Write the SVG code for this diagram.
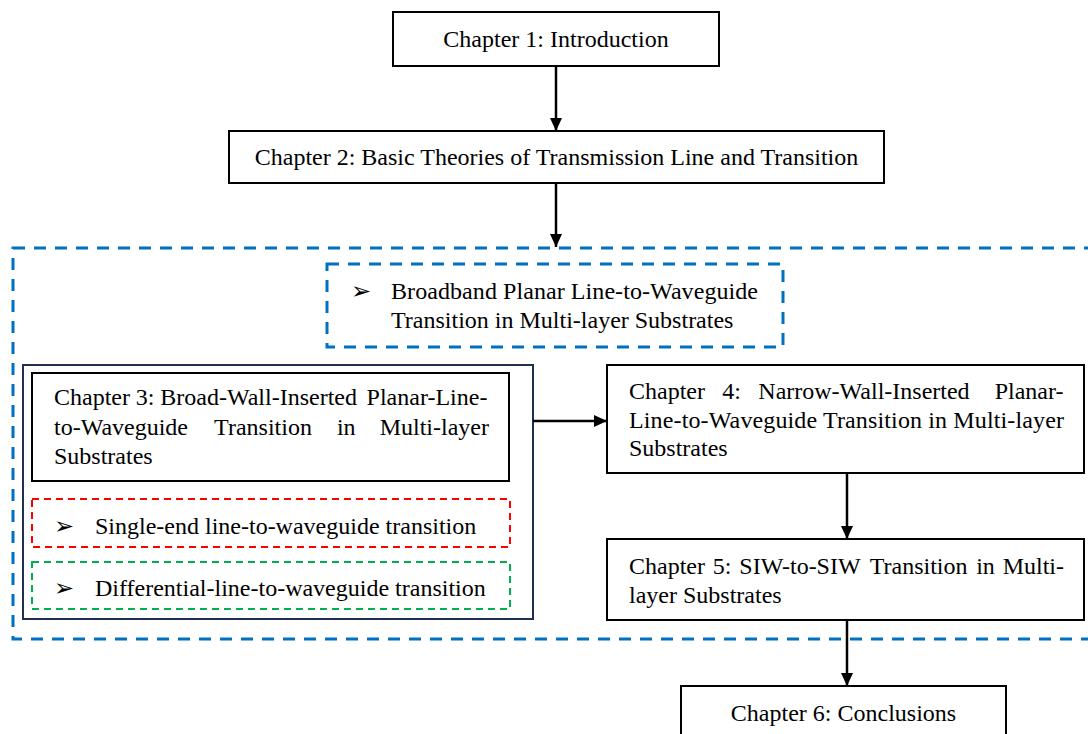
<svg xmlns="http://www.w3.org/2000/svg" width="1088" height="734" viewBox="0 0 1088 734">
  <style>
    .box{fill:#ffffff;stroke:#000000;stroke-width:2}
    .t{font-family:"Liberation Serif","Times New Roman",serif;font-size:24px;fill:#000000}
    .c{text-anchor:middle}
    .bul{font-family:"DejaVu Sans",sans-serif;font-size:24px;fill:#000000}
    .blue{fill:none;stroke:#0070C0;stroke-width:3;stroke-dasharray:12 9}
    .red{fill:none;stroke:#FF0000;stroke-width:2;stroke-dasharray:7 5}
    .green{fill:none;stroke:#00B050;stroke-width:2;stroke-dasharray:7 5}
    .navy{fill:none;stroke:#1F3050;stroke-width:2}
    .conn{stroke:#000000;stroke-width:2.5;fill:none}
  </style>
  <defs>
    <marker id="ah" markerUnits="userSpaceOnUse" markerWidth="14" markerHeight="14" viewBox="0 0 14 14" refX="13" refY="7" orient="auto">
      <path d="M0,1 L13,7 L0,13 Z" fill="#000000"/>
    </marker>
  </defs>
  <rect width="1088" height="734" fill="#ffffff"/>

  <g id="group-outer">
    <rect class="blue" x="13" y="248" width="1090" height="391"/>
  </g>

  <g id="ch1">
    <rect class="box" x="393" y="12" width="326" height="54"/>
    <text class="t c" x="556" y="47">Chapter 1: Introduction</text>
  </g>

  <g id="ch2">
    <rect class="box" x="229" y="131" width="655" height="52"/>
    <text class="t c" x="556.5" y="165">Chapter 2: Basic Theories of Transmission Line and Transition</text>
  </g>

  <g id="theme">
    <rect class="blue" x="327" y="264" width="456" height="83"/>
    <text class="bul" x="351" y="299">➢</text>
    <text class="t" x="391" y="299" textLength="367" lengthAdjust="spacing">Broadband Planar Line-to-Waveguide</text>
    <text class="t" x="391" y="328">Transition in Multi-layer Substrates</text>
  </g>

  <g id="ch3">
    <rect class="navy" x="23" y="365" width="510" height="254"/>
    <rect class="box" x="32" y="373" width="477" height="108"/>
    <text class="t" y="405"><tspan x="54">Chapter</tspan><tspan x="135.8">3:</tspan><tspan x="160.3">Broad-Wall-Inserted</tspan><tspan x="366.6">Planar-Line-</tspan></text>
    <text class="t" y="435"><tspan x="54">to-Waveguide</tspan><tspan x="214.1">Transition</tspan><tspan x="336.9">in</tspan><tspan x="379.7">Multi-layer</tspan></text>
    <text class="t" x="54" y="464">Substrates</text>
  </g>

  <g id="ch3-single">
    <rect class="red" x="32" y="499" width="478" height="48"/>
    <text class="bul" x="54" y="534">➢</text>
    <text class="t" x="95" y="534">Single-end line-to-waveguide transition</text>
  </g>

  <g id="ch3-diff">
    <rect class="green" x="32" y="562" width="478" height="47"/>
    <text class="bul" x="54" y="596">➢</text>
    <text class="t" x="95" y="596">Differential-line-to-waveguide transition</text>
  </g>

  <g id="ch4">
    <rect class="box" x="607" y="365" width="477" height="108"/>
    <text class="t" y="399"><tspan x="629">Chapter</tspan><tspan x="722.3">4:</tspan><tspan x="758.3">Narrow-Wall-Inserted</tspan><tspan x="994.7">Planar-</tspan></text>
    <text class="t" x="629" y="428" textLength="435" lengthAdjust="spacing">Line-to-Waveguide Transition in Multi-layer</text>
    <text class="t" x="629" y="456">Substrates</text>
  </g>

  <g id="ch5">
    <rect class="box" x="607" y="539" width="477" height="81"/>
    <text class="t" y="574"><tspan x="629">Chapter</tspan><tspan x="712.8">5:</tspan><tspan x="739.3">SIW-to-SIW</tspan><tspan x="869.7">Transition</tspan><tspan x="976.2">in</tspan><tspan x="1002.7">Multi-</tspan></text>
    <text class="t" x="629" y="603">layer Substrates</text>
  </g>

  <g id="ch6">
    <rect class="box" x="681" y="686" width="325" height="60"/>
    <text class="t c" x="843.5" y="721">Chapter 6: Conclusions</text>
  </g>

  <g id="connectors">
    <line class="conn" x1="556" y1="66" x2="556" y2="131" marker-end="url(#ah)"/>
    <line class="conn" x1="556" y1="183" x2="556" y2="247" marker-end="url(#ah)"/>
    <line class="conn" x1="533" y1="421" x2="607" y2="421" marker-end="url(#ah)"/>
    <line class="conn" x1="847" y1="473" x2="847" y2="539" marker-end="url(#ah)"/>
    <line class="conn" x1="847" y1="620" x2="847" y2="686" marker-end="url(#ah)"/>
  </g>
</svg>
